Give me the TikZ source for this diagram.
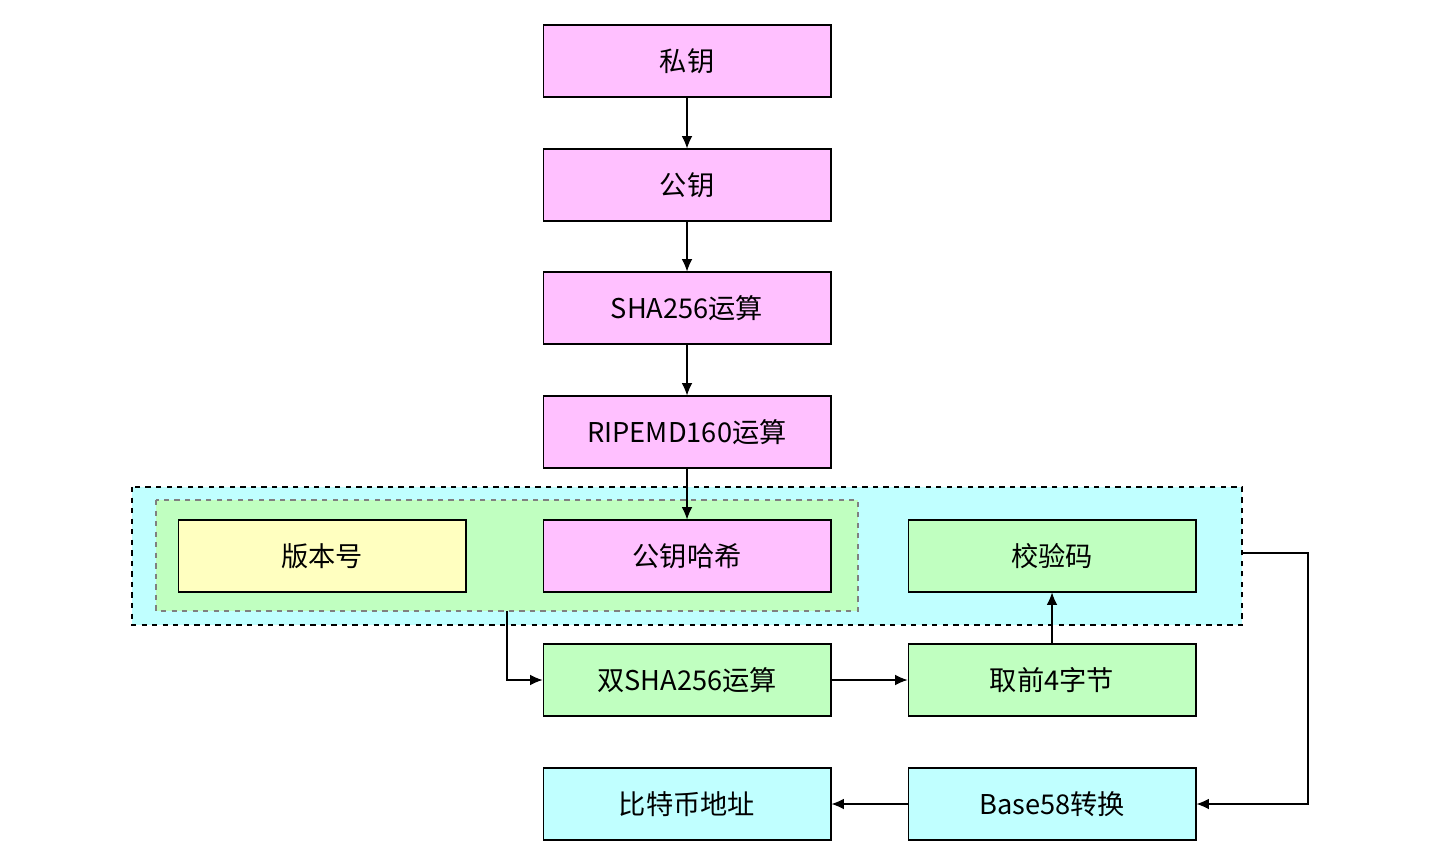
\documentclass[tikz,border=0pt]{standalone}
\usepackage{fontspec}
\setmainfont{Noto Sans CJK SC}
\usetikzlibrary{arrows.meta}
\definecolor{pk}{HTML}{FFC0FF}
\definecolor{yl}{HTML}{FFFFC0}
\definecolor{gr}{HTML}{C0FFC0}
\definecolor{cy}{HTML}{C0FFFF}
\begin{document}
\begin{tikzpicture}[x=0.02cm,y=-0.02cm,
 box/.style={draw=black,line width=0.6pt,minimum width=5.76cm,minimum height=1.44cm,font=\fontsize{15.5}{18}\selectfont,inner sep=0pt},
 arr/.style={-{Latex[length=7pt,width=6pt]},line width=0.6pt}]
\useasboundingbox (0,0) rectangle (1440,864);
\draw[dashed,fill=cy,line width=0.6pt] (132,487) rectangle (1242,625);
\draw[dashed,draw=gray,fill=gr,line width=0.6pt] (156,500) rectangle (858,611);
\coordinate (outerR) at (1242,553);
\coordinate (innerB) at (507,611);
\node[box,fill=pk] (a) at (687,61) {私钥};
\node[box,fill=pk] (b) at (687,185) {公钥};
\node[box,fill=pk] (c) at (687,308) {SHA256运算};
\node[box,fill=pk] (d) at (687,432) {RIPEMD160运算};
\node[box,fill=yl] (v) at (322,556) {版本号};
\node[box,fill=pk] (h) at (687,556) {公钥哈希};
\node[box,fill=gr] (k) at (1052,556) {校验码};
\node[box,fill=gr] (s) at (687,680) {双SHA256运算};
\node[box,fill=gr] (f) at (1052,680) {取前4字节};
\node[box,fill=cy] (btc) at (687,804) {比特币地址};
\node[box,fill=cy] (b58) at (1052,804) {Base58转换};
\draw[arr] (a) -- (b);
\draw[arr] (b) -- (c);
\draw[arr] (c) -- (d);
\draw[arr] (d) -- (h);
\draw[arr] (innerB) |- (s);
\draw[arr] (s) -- (f);
\draw[arr] (f) -- (k);
\draw[arr] (outerR) -- (1308,553) |- (b58);
\draw[arr] (b58) -- (btc);
\end{tikzpicture}
\end{document}
